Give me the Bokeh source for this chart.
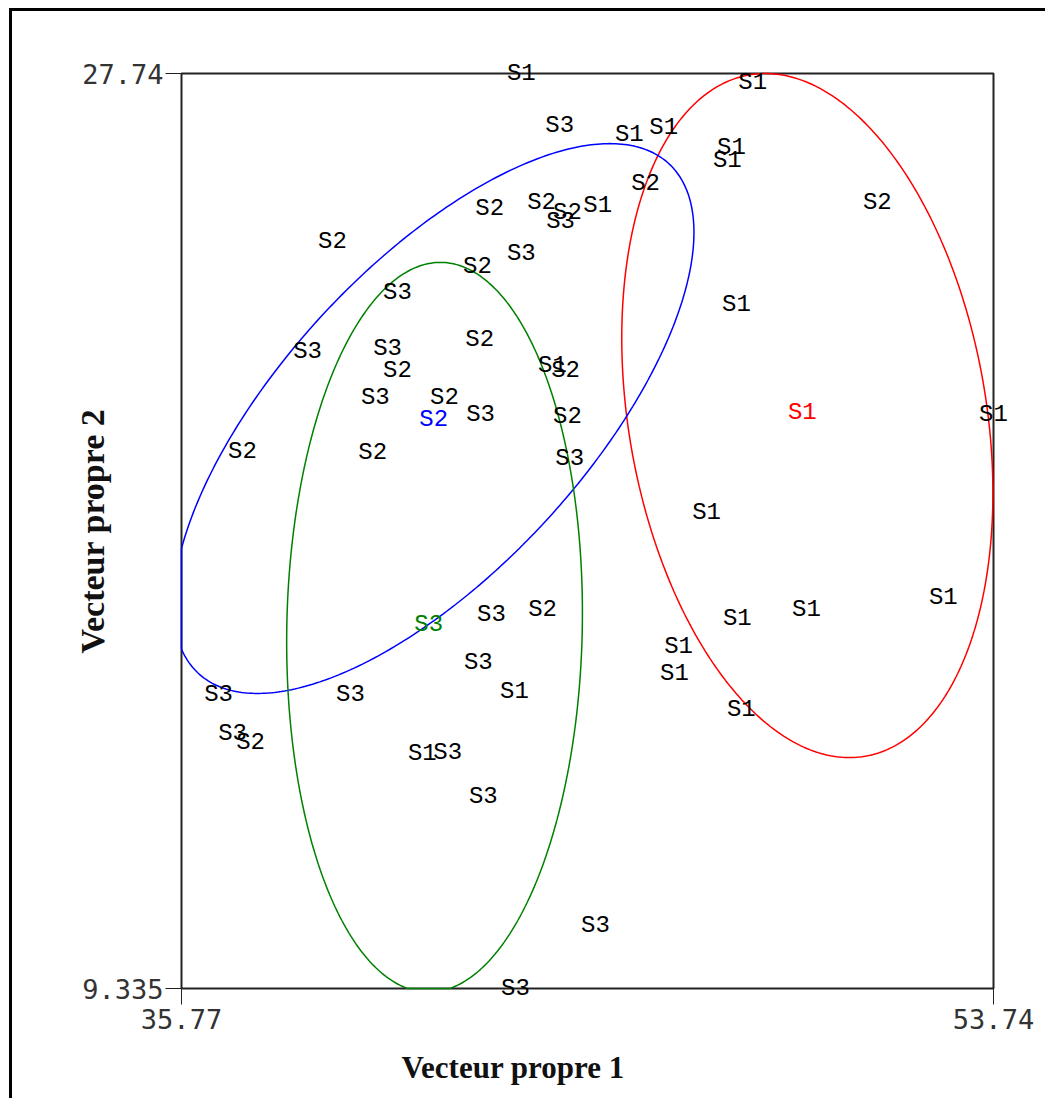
import numpy as np
from bokeh.plotting import figure
from bokeh.models import Range1d, FixedTicker, LabelSet, ColumnDataSource, Title
from bokeh.embed import file_html
from bokeh.resources import INLINE
from bokeh.core.properties import value

# ---- data: observation labels (group) and coordinates on the two eigenvectors
s1_x = [43.29, 48.41, 45.68, 46.44, 47.94, 47.85, 44.98, 48.05, 43.98, 53.74,
        47.39, 49.60, 52.63, 48.07, 46.77, 46.68, 43.14, 48.16, 41.10]
s1_y = [27.74, 27.56, 26.51, 26.65, 26.25, 25.99, 25.08, 23.09, 21.87, 20.88,
        18.91, 16.96, 17.20, 16.78, 16.21, 15.67, 15.31, 14.95, 14.06]

s2_x = [46.04, 51.17, 42.59, 43.74, 44.31, 39.11, 42.32, 42.37, 40.55, 44.27,
        41.59, 44.31, 37.12, 40.00, 43.76, 37.30]
s2_y = [25.53, 25.15, 25.02, 25.15, 24.94, 24.36, 23.86, 22.39, 21.77, 21.77,
        21.22, 20.84, 20.14, 20.12, 16.96, 14.28]

s3_x = [44.14, 44.16, 43.29, 40.55, 38.56, 40.33, 40.06, 42.39, 44.36, 42.63,
        42.34, 36.59, 39.51, 36.90, 41.66, 42.45, 44.93, 43.16]
s3_y = [26.69, 24.76, 24.12, 23.33, 22.15, 22.21, 21.22, 20.88, 20.00, 16.86,
        15.89, 15.25, 15.25, 14.46, 14.08, 13.20, 10.60, 9.335]

# group centroids
cent_names = ["S1", "S2", "S3"]
cent_x = [49.51, 41.35, 41.24]
cent_y = [20.92, 20.78, 16.66]

# confidence ellipses: centre + conjugate half-axes (data units)
ell_cx = [49.62, 41.35, 41.37]
ell_cy = [20.86, 20.80, 16.60]
ell_ux = [-0.93, 3.90, 0.13]
ell_uy = [6.88, 5.53, 7.34]
ell_h = [4.00, 4.24, 3.27]

# axis extents / ticks
x_min, x_max = 35.77, 53.74
y_min, y_max = 9.335, 27.74
x_ticks = [35.77, 53.74]
y_ticks = [9.335, 27.74]
x_title = "Vecteur propre 1"
y_title = "Vecteur propre 2"

group_colors = ["#ff0000", "#0000ff", "#008000"]

# ---- layout (pixels, page coordinates)
off_x, off_y = 12, 11            # canvas origin after margin + border
W, H = 1036, 1090
box_l, box_r, box_t, box_b = 181, 993, 73, 988   # visible plot box
pad = 16                                           # room so edge labels are not clipped
px_x = (box_r - box_l) / (x_max - x_min)
px_y = (box_b - box_t) / (y_max - y_min)
xr = Range1d(x_min - pad / px_x, x_max + pad / px_x)
yr = Range1d(y_min - pad / px_y, y_max + pad / px_y)

p = figure(width=W, height=H, output_backend="svg", toolbar_location=None,
           x_range=xr, y_range=yr,
           min_border_left=box_l - pad - off_x,
           min_border_right=W - (box_r + pad - off_x),
           min_border_top=box_t - pad - off_y,
           min_border_bottom=H - (box_b + pad - off_y))
p.styles = {"margin-left": "9px", "margin-top": "8px",
            "border-left": "3px solid black", "border-top": "3px solid black"}
p.grid.visible = False
p.outline_line_color = None
p.background_fill_color = "white"
p.border_fill_color = "white"

for ax in (p.xaxis[0], p.yaxis[0]):
    ax.axis_line_color = None
    ax.minor_tick_line_color = None
    ax.major_tick_out = 0
    ax.major_tick_in = pad
    ax.major_tick_line_color = "#222222"
    ax.major_tick_line_width = 1
    ax.major_label_text_font = "DejaVu Sans Mono"
    ax.major_label_text_font_size = "27px"
    ax.major_label_text_color = "#333333"

p.xaxis.ticker = FixedTicker(ticks=x_ticks)
p.yaxis.ticker = FixedTicker(ticks=y_ticks)
p.xaxis.major_label_overrides = {v: f"{v:g}" for v in x_ticks}
p.yaxis.major_label_overrides = {v: f"{v:g}" for v in y_ticks}
p.xaxis.major_label_standoff = 4
p.yaxis.major_label_standoff = 2

# y axis title
p.yaxis.axis_label = y_title
p.yaxis.axis_label_text_font = "Liberation Serif"
p.yaxis.axis_label_text_font_style = "bold"
p.yaxis.axis_label_text_font_size = "34px"
p.yaxis.axis_label_text_color = "#111111"
p.yaxis.axis_label_standoff = -32

# x axis title
p.add_layout(Title(text=x_title, align="left", offset=236, standoff=32,
                   text_font="Liberation Serif", text_font_style="bold",
                   text_font_size="31px", text_color="#111111"), "below")

# plot box
p.quad(left=[x_min], right=[x_max], bottom=[y_min], top=[y_max],
       fill_color=None, line_color="#222222", line_width=2)

# ellipses
t = np.linspace(0, 2 * np.pi, 400)
for cx, cy, ux, uy, h, c in zip(ell_cx, ell_cy, ell_ux, ell_uy, ell_h, group_colors):
    ex = cx + ux * np.cos(t) + h * np.sin(t)
    ey = cy + uy * np.cos(t)
    ex = np.clip(ex, x_min, x_max)
    ey = np.clip(ey, y_min, y_max)
    p.line(ex, ey, line_color=c, line_width=1.5)

# observation labels
obs_x = s1_x + s2_x + s3_x
obs_y = s1_y + s2_y + s3_y
obs_t = ["S1"] * len(s1_x) + ["S2"] * len(s2_x) + ["S3"] * len(s3_x)
src = ColumnDataSource(dict(x=obs_x, y=obs_y, t=obs_t))
p.add_layout(LabelSet(x="x", y="y", text="t", source=src,
                      text_font=value("Liberation Mono"), text_font_size=value("24px"),
                      text_color="black", text_align="center", text_baseline="middle"))

csrc = ColumnDataSource(dict(x=cent_x, y=cent_y, t=cent_names, c=group_colors))
p.add_layout(LabelSet(x="x", y="y", text="t", source=csrc,
                      text_font=value("Liberation Mono"), text_font_size=value("24px"),
                      text_color="c", text_align="center", text_baseline="middle"))

open("out.html", "w").write(file_html(p, INLINE))
